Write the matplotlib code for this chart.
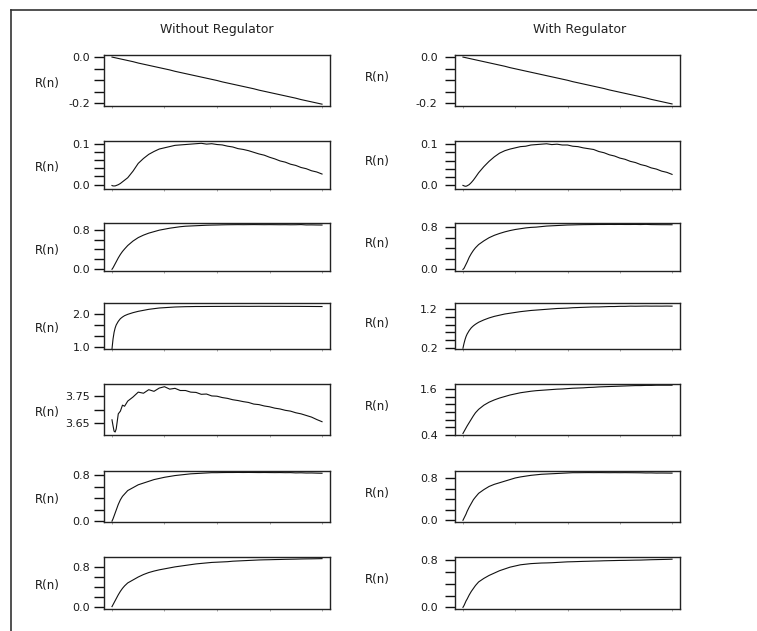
import numpy as np
import matplotlib
matplotlib.use("Agg")
import matplotlib.pyplot as plt
from matplotlib.lines import Line2D

plt.rcParams['font.family'] = ['DejaVu Sans']

# iteration index shared by every panel
n = [0, 5, 10, 15, 20, 30, 40, 50, 60, 75,
     100, 125, 150, 175, 200, 225, 250, 275, 300, 325,
     350, 375, 400, 425, 450, 475, 500, 525, 550, 575,
     600, 625, 650, 675, 700, 725, 750, 775, 800, 825,
     850, 875, 900, 925, 950, 975, 1000]

# ---- without regulator ----
wo_1 = [0.000, -0.001, -0.002, -0.003, -0.004, -0.006, -0.008, -0.010, -0.012, -0.015,
        -0.020, -0.026, -0.031, -0.036, -0.041, -0.046, -0.051, -0.056, -0.062, -0.067,
        -0.072, -0.077, -0.082, -0.087, -0.092, -0.097, -0.102, -0.108, -0.113, -0.118,
        -0.123, -0.128, -0.133, -0.138, -0.144, -0.149, -0.154, -0.159, -0.164, -0.169,
        -0.174, -0.179, -0.185, -0.190, -0.195, -0.200, -0.205]
wo_2 = [-0.002, -0.003, -0.003, -0.003, -0.002, 0.000, 0.003, 0.007, 0.011, 0.017,
        0.033, 0.052, 0.064, 0.074, 0.081, 0.087, 0.090, 0.093, 0.096, 0.097,
        0.098, 0.099, 0.100, 0.101, 0.099, 0.100, 0.098, 0.097, 0.094, 0.092,
        0.088, 0.086, 0.083, 0.079, 0.075, 0.072, 0.067, 0.063, 0.058, 0.055,
        0.050, 0.047, 0.042, 0.039, 0.034, 0.031, 0.026]
wo_3 = [0.00, 0.03, 0.07, 0.11, 0.15, 0.23, 0.30, 0.36, 0.41, 0.48,
        0.57, 0.64, 0.69, 0.73, 0.76, 0.79, 0.81, 0.83, 0.845, 0.86,
        0.87, 0.875, 0.88, 0.885, 0.89, 0.893, 0.895, 0.898, 0.90, 0.901,
        0.902, 0.901, 0.902, 0.903, 0.902, 0.901, 0.902, 0.901, 0.900, 0.901,
        0.899, 0.900, 0.903, 0.896, 0.897, 0.895, 0.894]
wo_4 = [0.95, 1.25, 1.45, 1.58, 1.67, 1.78, 1.86, 1.91, 1.95, 1.99,
        2.04, 2.08, 2.11, 2.14, 2.16, 2.18, 2.19, 2.20, 2.21, 2.215,
        2.22, 2.222, 2.225, 2.225, 2.226, 2.227, 2.228, 2.228, 2.229, 2.229,
        2.230, 2.230, 2.229, 2.230, 2.231, 2.230, 2.230, 2.229, 2.230, 2.229,
        2.228, 2.229, 2.228, 2.227, 2.226, 2.225, 2.224]
wo_5 = [3.662, 3.640, 3.620, 3.617, 3.628, 3.684, 3.694, 3.716, 3.712, 3.731,
        3.746, 3.764, 3.760, 3.773, 3.767, 3.779, 3.784, 3.775, 3.778, 3.770,
        3.770, 3.764, 3.763, 3.756, 3.757, 3.750, 3.749, 3.744, 3.741, 3.736,
        3.733, 3.729, 3.726, 3.720, 3.718, 3.713, 3.710, 3.705, 3.702, 3.697,
        3.694, 3.688, 3.684, 3.678, 3.672, 3.663, 3.655]
wo_6 = [0.00, 0.04, 0.09, 0.14, 0.19, 0.29, 0.37, 0.43, 0.47, 0.53,
        0.58, 0.63, 0.66, 0.69, 0.72, 0.74, 0.76, 0.775, 0.79, 0.80,
        0.81, 0.82, 0.825, 0.83, 0.835, 0.84, 0.84, 0.842, 0.843, 0.843,
        0.844, 0.843, 0.844, 0.843, 0.842, 0.843, 0.842, 0.841, 0.842, 0.840,
        0.841, 0.836, 0.838, 0.834, 0.835, 0.832, 0.830]
wo_7 = [0.00, 0.04, 0.08, 0.12, 0.16, 0.24, 0.31, 0.37, 0.42, 0.48,
        0.54, 0.60, 0.65, 0.69, 0.72, 0.745, 0.765, 0.785, 0.805, 0.82,
        0.835, 0.85, 0.865, 0.875, 0.885, 0.895, 0.90, 0.905, 0.91, 0.92,
        0.925, 0.93, 0.935, 0.94, 0.945, 0.948, 0.95, 0.953, 0.955, 0.958,
        0.96, 0.962, 0.965, 0.967, 0.968, 0.97, 0.972]

# ---- with regulator ----
w_1 = [0.000, -0.001, -0.002, -0.003, -0.004, -0.006, -0.008, -0.010, -0.012, -0.015,
       -0.020, -0.025, -0.030, -0.035, -0.040, -0.046, -0.051, -0.056, -0.061, -0.066,
       -0.071, -0.076, -0.081, -0.086, -0.091, -0.096, -0.101, -0.107, -0.112, -0.117,
       -0.122, -0.127, -0.132, -0.137, -0.143, -0.148, -0.153, -0.158, -0.163, -0.168,
       -0.173, -0.178, -0.184, -0.189, -0.194, -0.199, -0.204]
w_2 = [-0.001, -0.002, -0.003, -0.003, -0.002, 0.001, 0.006, 0.012, 0.019, 0.030,
       0.045, 0.058, 0.069, 0.078, 0.084, 0.088, 0.091, 0.094, 0.095, 0.098,
       0.099, 0.100, 0.101, 0.099, 0.100, 0.098, 0.098, 0.095, 0.094, 0.091,
       0.089, 0.087, 0.082, 0.079, 0.074, 0.071, 0.066, 0.063, 0.058, 0.055,
       0.050, 0.047, 0.042, 0.039, 0.034, 0.031, 0.026]
w_3 = [0.00, 0.02, 0.06, 0.10, 0.14, 0.23, 0.30, 0.36, 0.41, 0.47,
       0.54, 0.60, 0.645, 0.68, 0.71, 0.735, 0.755, 0.77, 0.785, 0.795,
       0.80, 0.81, 0.82, 0.825, 0.83, 0.835, 0.84, 0.842, 0.845, 0.847,
       0.848, 0.849, 0.850, 0.850, 0.851, 0.850, 0.851, 0.850, 0.850, 0.851,
       0.849, 0.852, 0.848, 0.847, 0.846, 0.846, 0.845]
w_4 = [0.20, 0.32, 0.42, 0.50, 0.56, 0.65, 0.72, 0.77, 0.81, 0.86,
       0.92, 0.97, 1.01, 1.04, 1.07, 1.09, 1.11, 1.13, 1.145, 1.16,
       1.17, 1.18, 1.19, 1.20, 1.21, 1.215, 1.22, 1.23, 1.235, 1.24,
       1.245, 1.25, 1.25, 1.255, 1.26, 1.26, 1.265, 1.265, 1.27, 1.268,
       1.27, 1.272, 1.27, 1.271, 1.27, 1.272, 1.27]
w_5 = [0.43, 0.48, 0.53, 0.58, 0.63, 0.72, 0.81, 0.90, 0.98, 1.07,
       1.18, 1.26, 1.32, 1.37, 1.41, 1.45, 1.48, 1.51, 1.53, 1.55,
       1.565, 1.575, 1.585, 1.595, 1.605, 1.61, 1.62, 1.63, 1.635, 1.64,
       1.65, 1.655, 1.665, 1.67, 1.675, 1.68, 1.685, 1.69, 1.695, 1.70,
       1.70, 1.705, 1.705, 1.71, 1.71, 1.71, 1.71]
w_6 = [0.00, 0.04, 0.08, 0.12, 0.17, 0.25, 0.32, 0.39, 0.44, 0.51,
       0.58, 0.64, 0.68, 0.71, 0.74, 0.77, 0.80, 0.82, 0.835, 0.85,
       0.86, 0.87, 0.875, 0.88, 0.885, 0.89, 0.895, 0.90, 0.90, 0.901,
       0.902, 0.901, 0.902, 0.901, 0.900, 0.901, 0.900, 0.901, 0.900, 0.899,
       0.898, 0.895, 0.896, 0.893, 0.894, 0.893, 0.892]
w_7 = [0.00, 0.03, 0.07, 0.11, 0.14, 0.21, 0.27, 0.32, 0.37, 0.43,
       0.49, 0.54, 0.58, 0.62, 0.65, 0.68, 0.70, 0.72, 0.73, 0.74,
       0.745, 0.75, 0.752, 0.755, 0.76, 0.765, 0.77, 0.772, 0.775, 0.778,
       0.78, 0.783, 0.785, 0.788, 0.79, 0.792, 0.794, 0.795, 0.797, 0.799,
       0.80, 0.803, 0.806, 0.808, 0.81, 0.812, 0.815]

titles = ['Without Regulator', 'With Regulator']
series = [[wo_1, wo_2, wo_3, wo_4, wo_5, wo_6, wo_7],
          [w_1, w_2, w_3, w_4, w_5, w_6, w_7]]

# y ticks for each panel; only the end ticks carry a label
ticks_wo = [[-0.2, -0.15, -0.1, -0.05, 0.0],
            [0.0, 0.02, 0.04, 0.06, 0.08, 0.1],
            [0.0, 0.2, 0.4, 0.6, 0.8],
            [1.0, 4 / 3, 5 / 3, 2.0],
            [3.65, 3.70, 3.75],
            [0.0, 0.2, 0.4, 0.6, 0.8],
            [0.0, 0.2, 0.4, 0.6, 0.8]]
labels_wo = [('-0.2', '0.0'), ('0.0', '0.1'), ('0.0', '0.8'), ('1.0', '2.0'),
             ('3.65', '3.75'), ('0.0', '0.8'), ('0.0', '0.8')]
ticks_w = [[-0.2, -0.15, -0.1, -0.05, 0.0],
           [0.0, 0.02, 0.04, 0.06, 0.08, 0.1],
           [0.0, 0.2, 0.4, 0.6, 0.8],
           [0.2, 0.4, 0.6, 0.8, 1.0, 1.2],
           [0.4, 0.6, 0.8, 1.0, 1.2, 1.4, 1.6],
           [0.0, 0.2, 0.4, 0.6, 0.8],
           [0.0, 0.2, 0.4, 0.6, 0.8]]
labels_w = [('-0.2', '0.0'), ('0.0', '0.1'), ('0.0', '0.8'), ('0.2', '1.2'),
            ('0.4', '1.6'), ('0.0', '0.8'), ('0.0', '0.8')]
ylims_wo = [(-0.213, 0.009), (-0.0105, 0.1066), (-0.035, 0.935), (0.95, 2.33),
            (3.606, 3.794), (-0.015, 0.869), (-0.048, 1.005)]
ylims_w = [(-0.213, 0.009), (-0.0098, 0.1078), (-0.03, 0.878), (0.18, 1.35),
           (0.39, 1.742), (-0.032, 0.932), (-0.028, 0.852)]

ticks = [ticks_wo, ticks_w]
labels = [labels_wo, labels_w]
ylims = [ylims_wo, ylims_w]

# layout in pixels
W, H = 757, 631
cols = [(104, 330), (455, 680)]
rows = [(55, 106), (141, 189), (223, 271), (303, 349), (384, 435), (471, 522), (557, 609)]
label_x = [47, 377]
title_x = [217, 580]

fig = plt.figure(figsize=(W / 100, H / 100), dpi=100)
fig.patch.set_facecolor('white')

for c, (x0, x1) in enumerate(cols):
    fig.text(title_x[c] / W, 1 - 30 / H, titles[c], ha='center', va='center',
             fontsize=9, color='#222222')
    for r, (top, bot) in enumerate(rows):
        ax = fig.add_axes([x0 / W, 1 - bot / H, (x1 - x0) / W, (bot - top) / H])
        ax.plot(n, series[c][r], color='#111111', lw=0.8)
        ax.set_xlim(-38, 1038)
        ax.set_ylim(*ylims[c][r])
        tv = ticks[c][r]
        lo, hi = labels[c][r]
        ax.set_yticks(tv)
        ax.set_yticklabels([lo] + [''] * (len(tv) - 2) + [hi])
        ax.set_xticks([0, 250, 500, 750, 1000])
        ax.set_xticklabels([])
        ax.tick_params(axis='y', length=7, width=1.0, color='#111111',
                       pad=3 if c == 0 else 5.5, labelsize=8, labelcolor='#1a1a1a')
        ax.tick_params(axis='x', length=1.5, width=0.6, color='#999999')
        for sp in ax.spines.values():
            sp.set_linewidth(1.0)
            sp.set_color('#222222')
        yc = 1 - ((top + bot) / 2 + (3 if c == 0 else -3)) / H
        fig.text(label_x[c] / W, yc, 'R(n)', ha='center', va='center',
                 fontsize=8.5, color='#1a1a1a')

# frame lines along the top and left edge
fig.add_artist(Line2D([11 / W, 1.0], [1 - 10 / H, 1 - 10 / H],
                      transform=fig.transFigure, color='#333333', lw=1.2))
fig.add_artist(Line2D([11 / W, 11 / W], [0.0, 1 - 10 / H],
                      transform=fig.transFigure, color='#333333', lw=1.2))

fig.savefig('out.png', dpi=100)
